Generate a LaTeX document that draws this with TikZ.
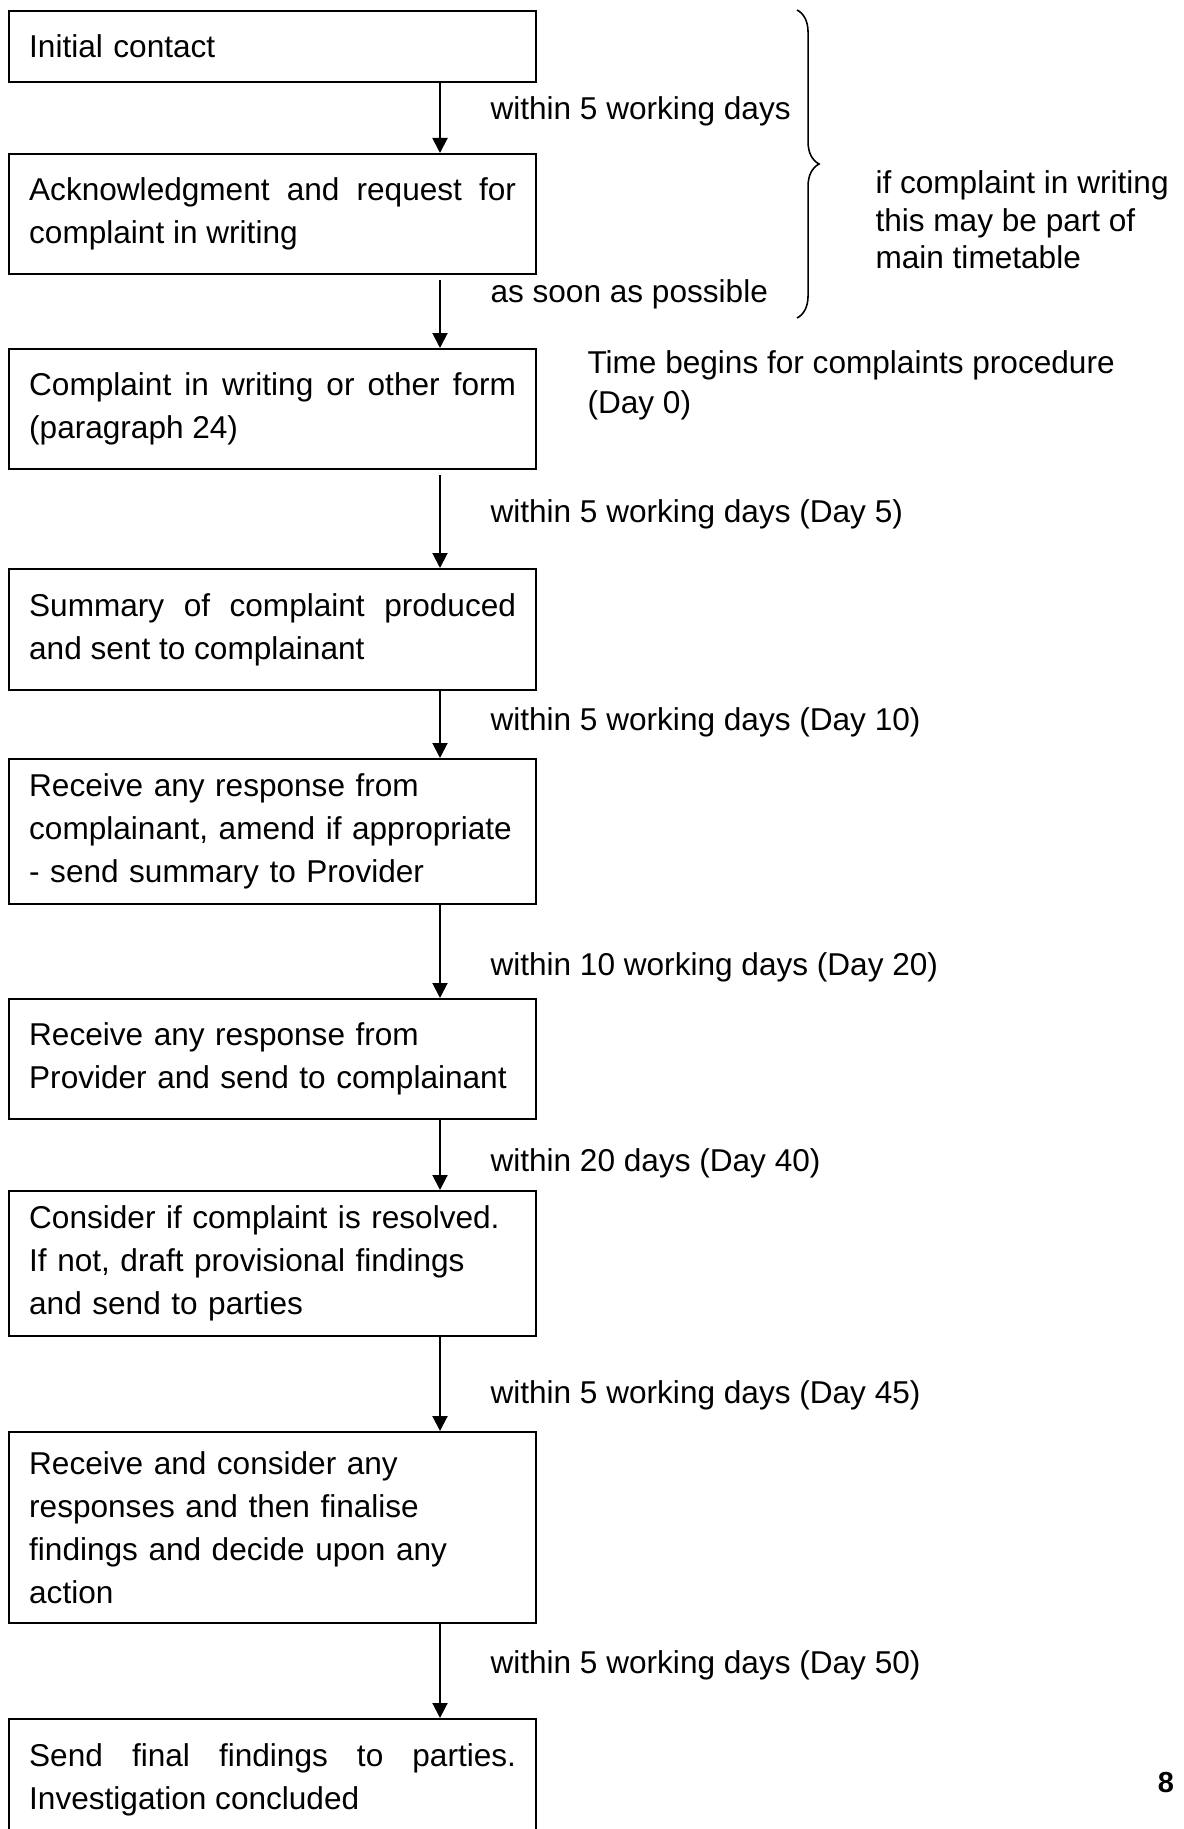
\documentclass[tikz,border=0pt]{standalone}
\usepackage{fontspec}
\setmainfont{Liberation Sans}
\usetikzlibrary{arrows.meta,decorations.pathreplacing}

\begin{document}
\begin{tikzpicture}[
    x=0.38pt, y=-0.38pt,
    box/.style={draw, line width=0.8pt, anchor=north west,
                text width=185pt, inner xsep=7.65pt, inner ysep=3pt,
                font=\fontsize{12}{16.3}\selectfont},
    boxj/.style={box, align=justify},
    boxl/.style={box, align=left},
    arr/.style={-{Triangle[length=5.7pt,width=5.7pt]}, line width=0.75pt},
    lbl/.style={anchor=west, inner sep=0pt, font=\fontsize{12}{16.3}\selectfont},
]
\useasboundingbox (0,0) rectangle (1183,1829);
\clip (0,0) rectangle (1183,1829);

% --- steps ---
\node[boxl, minimum height=27pt] (init) at (8,10) {Initial contact};
\node[boxj, minimum height=45.6pt] (ack) at (8,153)
    {Acknowledgment and request for\linebreak complaint in writing};
\node[boxj, minimum height=45.6pt] (cw) at (8,348)
    {Complaint in writing or other form\linebreak (paragraph 24)};
\node[boxj, minimum height=46pt] (summ) at (8,568)
    {Summary of complaint produced\linebreak and sent to complainant};
\node[boxl, minimum height=55.1pt] (resp) at (8,758)
    {Receive any response from\\complainant, amend if appropriate\\- send summary to Provider};
\node[boxl, minimum height=45.6pt] (prov) at (8,998)
    {Receive any response from\\Provider and send to complainant};
\node[boxl, minimum height=55.1pt] (cons) at (8,1190)
    {Consider if complaint is resolved.\\If not, draft provisional findings\\and send to parties};
\node[boxl, minimum height=72.6pt] (fin) at (8,1431)
    {Receive and consider any\\responses and then finalise\\findings and decide upon any\\action};
\node[boxj, minimum height=46.4pt] (send) at (8,1718)
    {Send final findings to parties.\linebreak Investigation concluded};

% --- arrows ---
\coordinate (ax) at (440,0);
\draw[arr] (init.south -| ax) -- (ack.north -| ax);
\draw[arr, shorten <=2pt] (ack.south -| ax) -- (cw.north -| ax);
\draw[arr, shorten <=2pt] (cw.south -| ax) -- (summ.north -| ax);
\draw[arr] (summ.south -| ax) -- (resp.north -| ax);
\draw[arr] (resp.south -| ax) -- (prov.north -| ax);
\draw[arr] (prov.south -| ax) -- (cons.north -| ax);
\draw[arr] (cons.south -| ax) -- (fin.north -| ax);
\draw[arr] (fin.south -| ax) -- (send.north -| ax);

% --- time limits ---
\node[lbl] (t1) at (490,111) {within 5 working days};
\node[lbl] (t2) at (490,294) {as soon as possible};
\node[lbl] (t3) at (490,514) {within 5 working days (Day 5)};
\node[lbl] (t4) at (490,722) {within 5 working days (Day 10)};
\node[lbl] (t5) at (490,967) {within 10 working days (Day 20)};
\node[lbl] (t6) at (490,1163) {within 20 days (Day 40)};
\node[lbl] (t7) at (490,1395) {within 5 working days (Day 45)};
\node[lbl] (t8) at (490,1665) {within 5 working days (Day 50)};

\node[lbl, align=left, font=\fontsize{12}{15.2}\selectfont] (day0) at (587,385)
    {Time begins for complaints procedure\\(Day 0)};

% --- brace ---
\coordinate (brt) at (797,10);
\coordinate (brb) at (797,318);
\draw[decorate, decoration={brace, amplitude=8.4pt}, line width=0.6pt] (brt) -- (brb);
\node[lbl, align=left, font=\fontsize{12}{14.3}\selectfont] (note) at (875,220)
    {if complaint in writing\\this may be part of\\main timetable};

% page number
\node[font=\fontsize{11}{13}\selectfont\bfseries, inner sep=0pt] (pg) at (1166,1783) {8};

\end{tikzpicture}
\end{document}
